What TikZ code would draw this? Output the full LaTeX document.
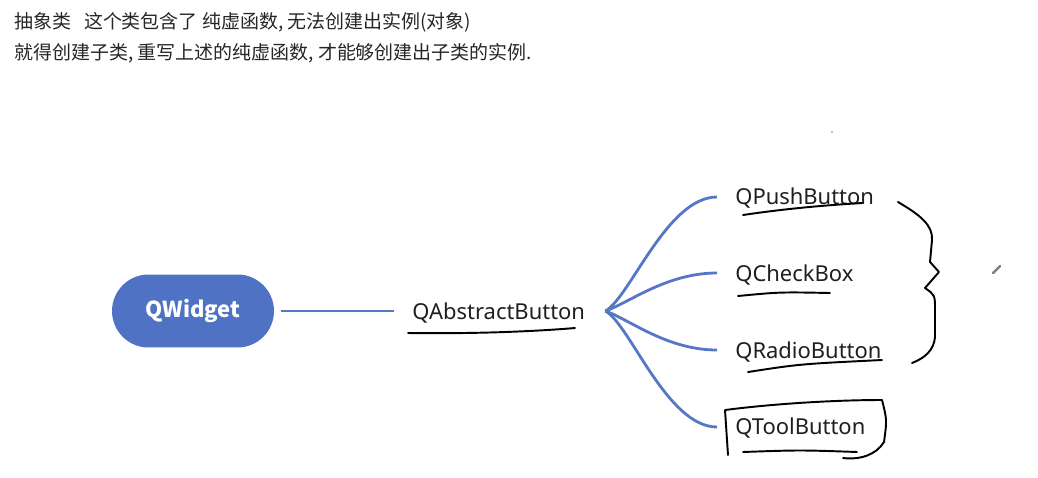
\documentclass[tikz,border=0pt]{standalone}
\usepackage{fontspec}
\setmainfont{Noto Sans}
\newfontfamily\cjk{Noto Sans CJK SC}
\usetikzlibrary{calc}
\definecolor{pillblue}{HTML}{4F72C4}
\definecolor{linkblue}{HTML}{5676C6}
\definecolor{notegray}{HTML}{262626}
\def\drawlink{\draw[color=linkblue, line width=1.6pt]}
\def\drawpen{\draw[color=black, line width=1.1pt, line cap=round, line join=round]}
\def\classnode{\node[anchor=west, inner sep=0pt, text=black!88, font=\fontsize{12.5}{15}\selectfont]}
\def\notenode{\node[anchor=west, inner sep=0pt, text=notegray, font=\cjk\fontsize{10.8}{13}\selectfont]}

\begin{document}
\begin{tikzpicture}[x=0.02cm,y=-0.02cm]
\useasboundingbox (0,0) rectangle (1038,477);

% -------- the two lines of notes on top ---------
\notenode (note1) at (14,22) {抽象类\ \ \ 这个类包含了 纯虚函数, 无法创建出实例(对象)};
\notenode (note2) at (14,53) {就得创建子类, 重写上述的纯虚函数, 才能够创建出子类的实例.};

% -------- root pill and the abstract class ---------
\node[rounded corners=0.73cm, fill=pillblue, minimum width=3.24cm, minimum height=1.46cm,
      text=white, font=\cjk\bfseries\fontsize{12.5}{14}\selectfont] (qwidget) at (193,311) {QWidget};
\classnode (abstract) at (412,313) {QAbstractButton};
\coordinate (root_out) at ($ (qwidget.east) + (7,0) $);
\coordinate (abs_in) at ($ (abstract.west) - (18,2) $);
\drawlink (root_out) -- (abs_in);

% -------- the four subclasses ---------
% every branch leaves the fork right of QAbstractButton
\coordinate (fork) at ($ (abstract.east) + (20,-2) $);
\classnode (push) at (735,198) {QPushButton};
\classnode (check) at (735,275) {QCheckBox};
\classnode (radio) at (735,352) {QRadioButton};
\classnode (tool) at (735,428) {QToolButton};
\coordinate (push_in) at ($ (push.west) - (18,1) $);
\coordinate (check_in) at ($ (check.west) - (18,2) $);
\coordinate (radio_in) at ($ (radio.west) - (18,2) $);
\coordinate (tool_in) at ($ (tool.west) - (18,1) $);
\drawlink (fork) .. controls ($ (fork) + (25,-14) $) and ($ (push_in) - (50,0) $) .. (push_in);
\drawlink (fork) .. controls ($ (fork) + (25,-9) $) and ($ (check_in) - (50,0) $) .. (check_in);
\drawlink (fork) .. controls ($ (fork) + (25,9) $) and ($ (radio_in) - (50,0) $) .. (radio_in);
\drawlink (fork) .. controls ($ (fork) + (25,14) $) and ($ (tool_in) - (50,0) $) .. (tool_in);

% -------- pen marks drawn over the slide ---------
\drawpen (408,333) .. controls (480,334) and (540,331) .. (575,328); % under QAbstractButton
\drawpen (743,215) .. controls (790,208) and (830,205) .. (862,203);
\drawpen (738,296) .. controls (780,292) .. (830,293);
\drawpen (748,372) .. controls (800,364) .. (882,360);
\drawpen (743,452) .. controls (800,450) .. (857,452);
% box round QToolButton
\drawpen (728,455) -- (725,410) .. controls (780,403) and (840,400) .. (882,400)
  .. controls (887,420) .. (884,442) .. controls (876,455) and (860,460) .. (843,458);
% brace on the right of the first three
\drawpen (898,202) .. controls (920,215) and (933,225) .. (932,240) -- (930,262)
  -- (939,272) -- (925,288) .. controls (935,295) .. (935,310) -- (935,337)
  .. controls (934,350) and (925,358) .. (912,363);
% pencil cursor and a stray dot
\draw[color=gray, line width=1.4pt, line cap=round] (993,273) -- (1000,266);
\fill[color=gray] (832,132) circle (0.8);
\end{tikzpicture}
\end{document}
